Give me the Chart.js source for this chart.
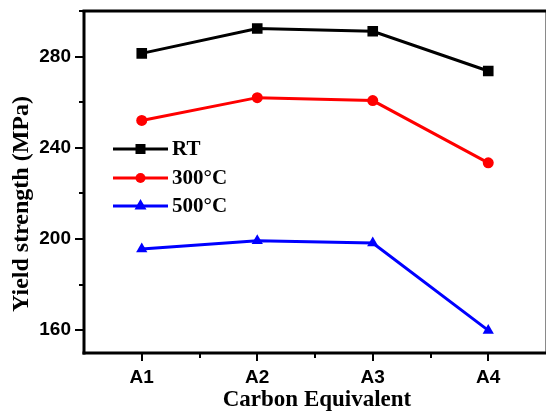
<!DOCTYPE html>
<html>
<head>
<meta charset="utf-8">
<script src="https://cdn.jsdelivr.net/npm/chart.js@4/dist/chart.umd.min.js"></script>
<style>
  html, body { margin: 0; padding: 0; background: #fff; }
  #wrap { width: 548px; height: 411px; position: relative; }
</style>
</head>
<body>
<div id="wrap"><canvas id="c"></canvas></div>
<script>
// ---- data ----
const categories = ['A1', 'A2', 'A3', 'A4'];
const seriesNames = ['RT', '300°C', '500°C'];
const rtValues = [281.4, 292.3, 291.1, 273.7];
const c300Values = [252.0, 262.0, 260.7, 233.4];
const c500Values = [195.6, 199.2, 198.2, 159.9];
const yMajorTicks = [160, 200, 240, 280];
const yMinorTicks = [180, 220, 260, 300];
const xTitle = 'Carbon Equivalent';
const yTitle = 'Yield strength (MPa)';

const tickFont = { family: "'Liberation Sans', Arial, sans-serif", size: 19, weight: 'bold' };

const framePlugin = {
  id: 'frame',
  afterDraw(chart) {
    const { ctx, chartArea: a, scales: { x, y } } = chart;
    ctx.save();
    const line = (x1, y1, x2, y2) => { ctx.beginPath(); ctx.moveTo(x1, y1); ctx.lineTo(x2, y2); ctx.stroke(); };
    // right thin frame
    ctx.strokeStyle = '#8a8a8a'; ctx.lineWidth = 1;
    line(a.right - 0.5, a.top, a.right - 0.5, a.bottom);
    // thick frame lines
    ctx.strokeStyle = '#000'; ctx.lineWidth = 3;
    line(a.left - 1.5, a.top, a.right, a.top);
    line(a.left, a.top, a.left, a.bottom + 1.5);
    line(a.left - 1.5, a.bottom, a.right, a.bottom);
    // ticks
    ctx.lineWidth = 2;
    yMajorTicks.forEach(v => { const p = Math.round(y.getPixelForValue(v)); line(a.left - 9, p, a.left, p); });
    yMinorTicks.forEach(v => { const p = Math.round(y.getPixelForValue(v)); line(a.left - 5, p, a.left, p); });
    categories.forEach((c, i) => { const p = Math.round(x.getPixelForValue(i)); line(p, a.bottom, p, a.bottom + 8); });
    for (let i = 0; i < categories.length - 1; i++) {
      const p = Math.round(x.getPixelForValue(i + 0.5)); line(p, a.bottom, p, a.bottom + 5);
    }
    // axis titles
    ctx.fillStyle = '#000';
    ctx.textAlign = 'center'; ctx.textBaseline = 'middle';
    ctx.font = "bold 23px 'Liberation Serif', 'Times New Roman', serif";
    ctx.fillText(xTitle, (a.left + a.right) / 2 + 2, 400);
    ctx.save();
    ctx.translate(22, 204);
    ctx.rotate(-Math.PI / 2);
    ctx.font = "bold 24px 'Liberation Serif', 'Times New Roman', serif";
    ctx.fillText(yTitle, 0, 0);
    ctx.restore();
    // legend
    const lx1 = 113, lx2 = 168, ly = [149, 178, 206];
    chart.data.datasets.forEach((ds, i) => {
      const yy = ly[i];
      ctx.strokeStyle = ds.borderColor; ctx.lineWidth = 3;
      line(lx1, yy, lx2, yy);
      ctx.fillStyle = ds.borderColor;
      const mx = (lx1 + lx2) / 2;
      if (ds.pointStyle === 'rect') { ctx.fillRect(mx - 5, yy - 5, 10, 10); }
      else if (ds.pointStyle === 'circle') { ctx.beginPath(); ctx.arc(mx, yy, 5, 0, Math.PI * 2); ctx.fill(); }
      else { ctx.beginPath(); ctx.moveTo(mx, yy - 7); ctx.lineTo(mx + 6, yy + 3.5); ctx.lineTo(mx - 6, yy + 3.5); ctx.closePath(); ctx.fill(); }
      ctx.fillStyle = '#000';
      ctx.font = "bold 21px 'Liberation Serif', 'Times New Roman', serif";
      ctx.textAlign = 'left'; ctx.textBaseline = 'middle';
      ctx.fillText(ds.label, 172, yy + 1);
    });
    ctx.restore();
  }
};

const mk = (label, values, color, style, r) => ({
  label, data: values, borderColor: color, backgroundColor: color,
  borderWidth: 3, pointStyle: style, pointRadius: r, pointHoverRadius: r,
  pointBorderWidth: 0, tension: 0
});

new Chart(document.getElementById('c'), {
  type: 'line',
  data: {
    labels: categories,
    datasets: [
      mk(seriesNames[0], rtValues, '#000000', 'rect', 7.5),
      mk(seriesNames[1], c300Values, '#ff0000', 'circle', 5.5),
      mk(seriesNames[2], c500Values, '#0000ff', 'triangle', 6.5)
    ]
  },
  options: {
    responsive: true,
    maintainAspectRatio: false,
    animation: false,
    devicePixelRatio: 1,
    layout: { autoPadding: false, padding: { top: 11, right: 2, left: 0, bottom: 0 } },
    plugins: { legend: { display: false }, tooltip: { enabled: false } },
    scales: {
      x: {
        type: 'category',
        offset: true,
        grid: { display: false, drawTicks: false },
        border: { display: false },
        ticks: { color: '#000', font: tickFont, padding: 13, maxRotation: 0, autoSkip: false },
        afterFit(s) { s.height = 58; s.paddingLeft = 0; s.paddingRight = 0; }
      },
      y: {
        type: 'linear',
        min: 150, max: 300,
        grid: { display: false, drawTicks: false },
        border: { display: false },
        afterBuildTicks(s) { s.ticks = yMajorTicks.map(v => ({ value: v })); },
        ticks: { color: '#000', font: tickFont, padding: 13 },
        afterFit(s) { s.width = 84; s.paddingTop = 0; s.paddingBottom = 0; }
      }
    }
  },
  plugins: [framePlugin]
});
</script>
</body>
</html>
